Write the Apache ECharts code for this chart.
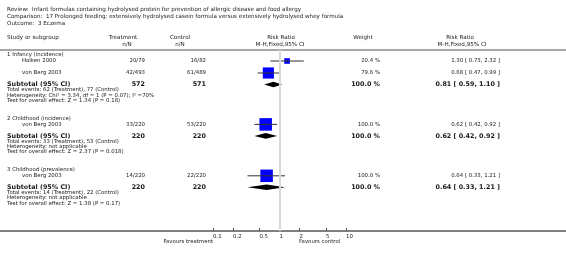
<!DOCTYPE html>
<html><head><meta charset="utf-8">
<script src="https://cdn.jsdelivr.net/npm/echarts@6/dist/echarts.min.js"></script>
<style>html,body{margin:0;padding:0;background:#fff}#c{width:566px;height:261px}</style>
</head><body><div id="c"></div>
<script>
const reviewTitle = "Review:  Infant formulas containing hydrolysed protein for prevention of allergic disease and food allergy";
const comparisonTitle = "Comparison:  17 Prolonged feeding: extensively hydrolysed casein formula versus extensively hydrolysed whey formula";
const outcomeTitle = "Outcome:  3 Eczema";
const columnHeaders = ["Study or subgroup", "Treatment", "Control", "Risk Ratio", "Weight", "Risk Ratio"];
const columnSubHeaders = ["n/N", "n/N", "M-H,Fixed,95% CI", "M-H,Fixed,95% CI"];

const subgroupNames = ["1 Infancy (incidence)", "2 Childhood (incidence)", "3 Childhood (prevalence)"];
const studyNames = [["Halken 2000", "von Berg 2003"], ["von Berg 2003"], ["von Berg 2003"]];
const studyTreatment = [["20/79", "42/493"], ["33/220"], ["14/220"]];
const studyControl = [["16/82", "61/489"], ["53/220"], ["22/220"]];
const studyRR = [[1.30, 0.68], [0.62], [0.64]];
const studyLow = [[0.73, 0.47], [0.42], [0.33]];
const studyHigh = [[2.32, 0.99], [0.92], [1.21]];
const studyWeight = [[20.4, 79.6], [100.0], [100.0]];

const subtotalTreatment = [572, 220, 220];
const subtotalControl = [571, 220, 220];
const subtotalRR = [0.81, 0.62, 0.64];
const subtotalLow = [0.59, 0.42, 0.33];
const subtotalHigh = [1.10, 0.92, 1.21];
const subtotalWeight = [100.0, 100.0, 100.0];

const totalEvents = ["Total events: 62 (Treatment), 77 (Control)", "Total events: 33 (Treatment), 53 (Control)", "Total events: 14 (Treatment), 22 (Control)"];
const heterogeneity = ["Heterogeneity: Chi² = 3.34, df = 1 (P = 0.07); I² =70%", "Heterogeneity: not applicable", "Heterogeneity: not applicable"];
const overallEffect = ["Test for overall effect: Z = 1.34 (P = 0.18)", "Test for overall effect: Z = 2.37 (P = 0.018)", "Test for overall effect: Z = 1.38 (P = 0.17)"];

const tickValues = [0.1, 0.2, 0.5, 1, 2, 5, 10];
const tickLabels = ["0.1", "0.2", "0.5", "1", "2", "5", "10"];
const favoursLeft = "Favours treatment";
const favoursRight = "Favours control";

// ---------- layout ----------
const W = 566, H = 261;
const FONT = "DejaVu Sans";
const gridTop = 50, gridBottom = 231, plotLeft = 213, plotRight = 346;
const xStudy = 7, xIndent = 22, xTreat = 145, xCtrl = 206, xWeight = 380, xRR = 500;
const fs = 5.4, fsB = 6.4, fsH = 5.6;
const lg = v => Math.log10(v);
const fmt2 = v => v.toFixed(2);
const rrText = (r, l, h) => fmt2(r) + " [ " + fmt2(l) + ", " + fmt2(h) + " ]";

let y = 55;
const rows = [];
subgroupNames.forEach((name, g) => {
  const grp = { header: y, studies: [], notes: [] };
  y += 6;
  studyNames[g].forEach((s, i) => {
    grp.studies.push(y);
    if (i < studyNames[g].length - 1) y += 12;
  });
  y += 11.5; grp.subtotal = y;
  y += 5.5; grp.notes.push(y);
  y += 5.2; grp.notes.push(y);
  y += 5.2; grp.notes.push(y);
  y += 18;
  rows.push(grp);
});

const graphic = [];
function txt(text, x, yy, opt) {
  opt = opt || {};
  const size = opt.size || fs;
  graphic.push({
    type: 'text', silent: true,
    style: {
      text: text, x: x, y: yy,
      font: (opt.bold ? 'bold ' : '') + size + 'px "' + FONT + '"',
      fill: opt.color || '#1a1a1a',
      align: opt.align || 'left', textAlign: opt.align || 'left',
      verticalAlign: 'middle', textVerticalAlign: 'middle'
    }
  });
}
txt(reviewTitle, 7, 10, { size: fsH });
txt(comparisonTitle, 7, 16.8, { size: fsH });
txt(outcomeTitle, 7, 23.6, { size: fsH });
txt(columnHeaders[0], xStudy, 38, { size: fsH });
txt(columnHeaders[1], 123, 38, { size: fsH, align: 'center' });
txt(columnSubHeaders[0], 127, 45, { size: fsH, align: 'center' });
txt(columnHeaders[2], 180, 38, { size: fsH, align: 'center' });
txt(columnSubHeaders[1], 180, 45, { size: fsH, align: 'center' });
txt(columnHeaders[3], 281, 38, { size: fsH, align: 'center' });
txt(columnSubHeaders[2], 280, 45, { size: fsH, align: 'center' });
txt(columnHeaders[4], 363, 38, { size: fsH, align: 'center' });
txt(columnHeaders[5], 460, 38, { size: fsH, align: 'center' });
txt(columnSubHeaders[3], 462, 45, { size: fsH, align: 'center' });

rows.forEach((grp, g) => {
  txt(subgroupNames[g], xStudy, grp.header);
  grp.studies.forEach((sy, i) => {
    txt(studyNames[g][i], xIndent, sy);
    txt(studyTreatment[g][i], xTreat, sy, { align: 'right' });
    txt(studyControl[g][i], xCtrl, sy, { align: 'right' });
    txt(studyWeight[g][i].toFixed(1) + " %", xWeight, sy, { align: 'right' });
    txt(rrText(studyRR[g][i], studyLow[g][i], studyHigh[g][i]), xRR, sy, { align: 'right' });
  });
  txt("Subtotal (95% CI)", xStudy, grp.subtotal, { bold: true, size: fsB });
  txt(String(subtotalTreatment[g]), xTreat, grp.subtotal, { bold: true, size: fsB, align: 'right' });
  txt(String(subtotalControl[g]), xCtrl, grp.subtotal, { bold: true, size: fsB, align: 'right' });
  txt(subtotalWeight[g].toFixed(1) + " %", xWeight, grp.subtotal, { bold: true, size: fsB, align: 'right' });
  txt(rrText(subtotalRR[g], subtotalLow[g], subtotalHigh[g]), xRR, grp.subtotal, { bold: true, size: fsB, align: 'right' });
  txt(totalEvents[g], xStudy, grp.notes[0]);
  txt(heterogeneity[g], xStudy, grp.notes[1]);
  txt(overallEffect[g], xStudy, grp.notes[2]);
});
txt(favoursLeft, plotLeft, 242, { align: 'right' });
txt(favoursRight, 299, 242);

graphic.push({ type: 'line', silent: true, shape: { x1: 0, y1: gridTop, x2: W, y2: gridTop }, style: { stroke: '#8a8a8a', lineWidth: 1.5 } });
graphic.push({ type: 'line', silent: true, shape: { x1: 0, y1: gridBottom, x2: W, y2: gridBottom }, style: { stroke: '#555', lineWidth: 1.5 } });

// y values are heights above the axis line
const studyData = [];
const diamondData = [];
rows.forEach((grp, g) => {
  grp.studies.forEach((sy, i) => {
    studyData.push([lg(studyRR[g][i]), gridBottom - sy, lg(studyLow[g][i]), lg(studyHigh[g][i]), studyWeight[g][i]]);
  });
  diamondData.push([lg(subtotalRR[g]), gridBottom - grp.subtotal, lg(subtotalLow[g]), lg(subtotalHigh[g])]);
});

const xMin = lg(tickValues[0]), xMax = lg(tickValues[tickValues.length - 1]);
const tickLogs = tickValues.map(lg);

const option = {
  animation: false,
  backgroundColor: '#fff',
  grid: { left: plotLeft, right: W - plotRight, top: gridTop, bottom: H - gridBottom, containLabel: false },
  xAxis: {
    type: 'value', min: xMin, max: xMax, position: 'bottom',
    axisLine: { show: false, onZero: false },
    splitLine: { show: false },
    axisTick: { show: true, inside: true, length: 3, customValues: tickLogs, lineStyle: { color: '#555', width: 1 } },
    axisLabel: {
      customValues: tickLogs, margin: 3, align: 'left',
      fontFamily: FONT, fontSize: fs, color: '#1a1a1a',
      formatter: function (v) {
        let best = 0;
        tickLogs.forEach((t, i) => { if (Math.abs(t - v) < Math.abs(tickLogs[best] - v)) best = i; });
        return tickLabels[best];
      }
    }
  },
  yAxis: { type: 'value', min: 0, max: gridBottom - gridTop, show: false },
  series: [
    {
      type: 'custom', name: 'studies', clip: false,
      data: studyData,
      renderItem: function (params, api) {
        const c = api.coord([api.value(0), api.value(1)]);
        const lo = api.coord([api.value(2), api.value(1)]);
        const hi = api.coord([api.value(3), api.value(1)]);
        const side = Math.sqrt(api.value(4) / 100) * 12.5;
        return {
          type: 'group', children: [
            { type: 'rect', shape: { x: c[0] - side / 2, y: c[1] - side / 2, width: side, height: side }, style: { fill: '#0000ff' } },
            { type: 'line', shape: { x1: lo[0], y1: c[1], x2: hi[0], y2: c[1] }, style: { stroke: '#333', lineWidth: 1 } },
            { type: 'line', shape: { x1: c[0], y1: c[1] - 1.5, x2: c[0], y2: c[1] + 1.5 }, style: { stroke: '#333', lineWidth: 0.6 } }
          ]
        };
      },
      markLine: {
        silent: true, symbol: 'none', label: { show: false },
        lineStyle: { color: '#d9d9d9', width: 2, type: 'solid' },
        data: [{ xAxis: lg(1) }]
      },
      z: 3
    },
    {
      type: 'custom', name: 'subtotals', clip: false,
      data: diamondData,
      renderItem: function (params, api) {
        const c = api.coord([api.value(0), api.value(1)]);
        const lo = api.coord([api.value(2), api.value(1)]);
        const hi = api.coord([api.value(3), api.value(1)]);
        const h = 2.8;
        return {
          type: 'polygon',
          shape: { points: [[lo[0], c[1]], [c[0], c[1] - h], [hi[0], c[1]], [c[0], c[1] + h]] },
          style: { fill: '#000' }
        };
      },
      z: 3
    }
  ],
  graphic: graphic
};
const chart = echarts.init(document.getElementById('c'), null, { renderer: 'canvas' });
chart.setOption(option);
</script>
</body></html>
